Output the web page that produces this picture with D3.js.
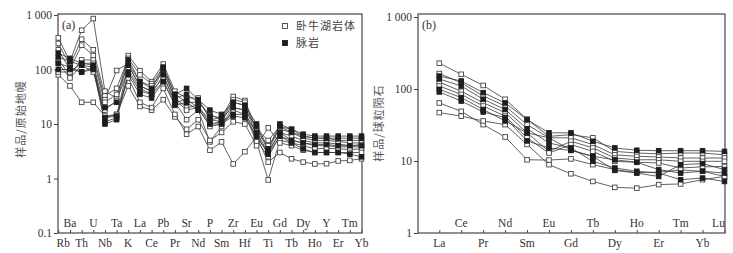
<!DOCTYPE html>
<html><head><meta charset="utf-8">
<script src="https://cdn.jsdelivr.net/npm/d3@7"></script>
<style>
html,body{margin:0;padding:0;background:#fff;}
svg{display:block;}
.ser{font-family:"Liberation Serif","Times New Roman",serif;}
.cjk{font-family:"Noto Sans CJK SC",sans-serif;}
</style></head>
<body><svg id="c" width="733" height="253"></svg>
<script>
// ---------- data ----------
const spiderElements = ["Rb","Ba","Th","U","Nb","Ta","K","La","Ce","Pb","Pr","Sr","Nd","P","Sm","Zr","Hf","Eu","Ti","Gd","Tb","Dy","Ho","Y","Er","Tm","Yb"];
const spiderOpen = [
  [380,140,525,860,40,30,180,95,60,126,40,30,30,12,13,32,27,8,5,9,8,6,5.5,5.5,5,5,5],
  [300,120,360,230,33,45,160,80,55,110,35,25,25,15,12,28,25,7,4,8,7,5.5,5,5,4.8,4.5,4.5],
  [230,100,280,180,28,96,130,60,50,90,30,20,22,10,11,25,22,6,3,7,6,5,4.5,4.5,4.3,4,4.2],
  [150,80,150,150,25,35,120,50,40,70,28,18,20,9,10,20,18,5,2.5,6,5,4.5,4,4,3.8,3.8,3.8],
  [130,70,120,90,18,27,100,45,35,60,25,12,18,4.7,9,18,15,4.7,0.94,5,4.5,4,3.5,3.6,3.5,3.4,3.5],
  [80,50,25,25,14,15,50,21,18,28,13.5,8,12,5,7,11,10,4,8.5,4.5,4,3.3,3,3,3,3,3],
  [90,90,130,130,13,15,70,25,20,45,15,6.5,9,3.3,4.7,1.85,3.1,5.9,2,3,2.3,2.0,1.85,1.87,2.1,2.15,2.3]
];
const spiderFilled = [
  [200,160,130,120,20,25,150,60,45,110,35,45,28,18,15,25,22,10,3.5,10,8,6.5,6,6,6,6,6],
  [170,140,120,110,13,14,120,50,40,100,30,35,25,14,13,20,18,9,3.2,9,7,6,5.5,5.5,5.5,5.5,5.5],
  [130,110,90,100,11,13,90,40,35,80,25,28,20,12,11,15,15,7,3,7,5,4.5,4.2,4.2,4,4,4],
  [100,100,90,110,10,12,80,35,30,60,22,25,18,10,10,14,13,6,2.8,6,4.5,3.5,3,3,3,2.8,2.5]
];
const reeElements = ["La","Ce","Pr","Nd","Sm","Eu","Gd","Tb","Dy","Ho","Er","Tm","Yb","Lu"];
const reeOpen = [
  [228,160,112,72,38,22,23.2,21,13.6,12.9,12.6,12.9,12.9,12.2],
  [164,122,80,58,32,21,21,16.9,12.2,11.6,11.4,11,11,11],
  [125,93,64.5,47,24.6,13.6,18.8,15.2,11,10.4,10.4,9.9,9.9,9.9],
  [110,84,58,42,21,12.9,16.9,13.6,9.9,9.6,9.4,8,8.3,8.4],
  [64,49,32,21.6,10.4,10.3,10.7,8.9,7.6,6.9,7,7.5,7.2,6.1],
  [47,42,36,32,17,8.9,6.65,5.2,4.3,4.2,4.7,4.8,5.5,6.1]
];
const reeFilled = [
  [151,129,89,64,37.7,24.6,24.6,18.8,15.2,14.1,13.9,13.9,13.9,13.6],
  [138,110,72,52,28,17.8,15.2,9.9,8,7.2,6.8,5.5,5.8,5.2],
  [99,76,52,36,24.6,21,14.2,11.6,7.4,6.8,6.1,8.9,9.2,7.6],
  [91,68,48,40,19,15.2,14,11.6,10.4,9.6,7.6,6.8,7.2,6.8]
];
const spiderTicks = [0.1,1,10,100,1000];
const spiderTickLabels = ["0.1","1","10","100","1 000"];
const reeTicks = [1,10,100,1000];
const reeTickLabels = ["1","10","100","1 000"];
const legendLabels = ["卧牛湖岩体","脉岩"];
const yTitles = ["样品/原始地幔","样品/球粒陨石"];
const panelTags = ["(a)","(b)"];

// ---------- drawing ----------
const svg = d3.select("#c");
const TXT = "#333";

function panel(cfg){
  const g = svg.append("g");
  const x = d3.scalePoint().domain(cfg.cats).range([cfg.px0, cfg.px1]);
  const y = d3.scaleLog().domain(cfg.ydom).range([cfg.py0, cfg.py1]);

  // y axis
  const ya = d3.axisLeft(y).tickValues(cfg.ticks).tickSize(4).tickPadding(2)
    .tickFormat((d,i)=>cfg.tickLabels[i]);
  const yg = g.append("g").attr("transform",`translate(${cfg.fx0},0)`).call(ya);
  yg.select(".domain").remove();
  yg.selectAll("line").attr("stroke","#444").attr("stroke-width",1);
  yg.selectAll("text").attr("class","ser").attr("font-size",11.5).attr("fill",TXT);

  // x axis ticks (inward)
  const xa = d3.axisBottom(x).tickSize(-3).tickFormat("");
  const xg = g.append("g").attr("transform",`translate(0,${cfg.fy1})`).call(xa);
  xg.select(".domain").remove();
  xg.selectAll("line").attr("stroke","#444").attr("stroke-width",1);

  // category labels, alternating rows
  g.selectAll("text.cat").data(cfg.cats).enter().append("text")
    .attr("class","ser cat")
    .attr("x",(d,i)=> x(d) + (i===0 && cfg.firstShift ? cfg.firstShift : 0) - (i===cfg.cats.length-1 && cfg.lastShift ? cfg.lastShift:0))
    .attr("y",(d,i)=> i%2===0 ? cfg.fy1+14 : cfg.fy1-6)
    .attr("text-anchor","middle").attr("font-size",11.5).attr("fill",TXT)
    .text(d=>d);

  // frame
  g.append("rect").attr("x",cfg.fx0).attr("y",cfg.fy0)
    .attr("width",cfg.fx1-cfg.fx0).attr("height",cfg.fy1-cfg.fy0)
    .attr("fill","none").attr("stroke","#555").attr("stroke-width",1.3);

  const line = d3.line().x((d,i)=>x(cfg.cats[i])).y(d=>y(d));
  const all = [];
  cfg.open.forEach(s=>all.push({v:s,f:false}));
  cfg.filled.forEach(s=>all.push({v:s,f:true}));
  g.selectAll("path.ser-line").data(all).enter().append("path")
    .attr("d",d=>line(d.v)).attr("fill","none").attr("stroke","#3a3a3a").attr("stroke-width",0.8);
  const sz = 4.6;
  all.forEach(s=>{
    g.selectAll(null).data(s.v).enter().append("rect")
      .attr("x",(d,i)=>x(cfg.cats[i])-sz/2).attr("y",d=>y(d)-sz/2)
      .attr("width",sz).attr("height",sz)
      .attr("fill",s.f?"#1e1e1e":"#fff").attr("stroke",s.f?"#1e1e1e":"#444").attr("stroke-width",0.9);
  });

  // tag
  g.append("text").attr("class","ser").attr("x",cfg.fx0+4).attr("y",cfg.fy0+15)
    .attr("font-size",12).attr("fill",TXT).text(cfg.tag);

  // y title
  g.append("text").attr("class","cjk")
    .attr("transform",`translate(${cfg.titleX},${cfg.titleY}) rotate(-90)`)
    .attr("text-anchor","middle").attr("font-size",11).attr("fill","#555")
    .attr("letter-spacing",1).text(cfg.title);
  return g;
}

const gA = panel({cats:spiderElements, px0:58.3, px1:361.5, ydom:[0.1,1000], py0:233, py1:15,
  fx0:58, fx1:362, fy0:14, fy1:233, ticks:spiderTicks, tickLabels:spiderTickLabels,
  open:spiderOpen, filled:spiderFilled, tag:panelTags[0], title:yTitles[0], titleX:25, titleY:119, firstShift:5});
const gB = panel({cats:reeElements, px0:439.3, px1:724.5, ydom:[1,1000], py0:233, py1:17,
  fx0:418, fx1:725, fy0:14, fy1:233, ticks:reeTicks, tickLabels:reeTickLabels,
  open:reeOpen, filled:reeFilled, tag:panelTags[1], title:yTitles[1], titleX:383, titleY:123, lastShift:6});

// legend
const leg = svg.append("g");
legendLabels.forEach((t,i)=>{
  const yy = 26 + i*17;
  leg.append("rect").attr("x",282.5).attr("y",yy-2.5).attr("width",5).attr("height",5)
    .attr("fill", i===0?"#fff":"#1e1e1e").attr("stroke", i===0?"#444":"#1e1e1e").attr("stroke-width",0.9);
  leg.append("text").attr("class","cjk").attr("x",296).attr("y",yy+4)
    .attr("font-size",11).attr("fill","#444").attr("letter-spacing",1).text(t);
});
</script>
</body></html>
